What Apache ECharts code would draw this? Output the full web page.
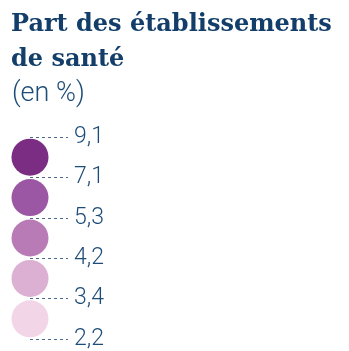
<!DOCTYPE html>
<html>
<head>
<meta charset="utf-8">
<script src="https://cdn.jsdelivr.net/npm/echarts@6/dist/echarts.min.js"></script>
<style>
  html, body { margin: 0; padding: 0; background: #fff; }
  #chart { width: 349px; height: 351px; }
</style>
</head>
<body>
<div id="chart"></div>
<script>
// Class boundaries of the share of health establishments (in %), top to bottom
const thresholds = [9.1, 7.1, 5.3, 4.2, 3.4, 2.2];
// Fill of each class, darkest for the highest share
const classColors = ['#7b2c83', '#9b57a3', '#b87bb6', '#dcb0d3', '#f2d6e8'];

const titleText = 'Part des établissements\nde santé';
const unitText = '(en %)';

const fmt = v => v.toFixed(1).replace('.', ',');

const chart = echarts.init(document.getElementById('chart'), null, { renderer: 'canvas' });

chart.setOption({
  backgroundColor: '#ffffff',
  animation: false,
  title: [
    {
      text: titleText,
      left: 6,
      top: 2,
      textStyle: {
        fontFamily: 'DejaVu Serif',
        fontWeight: 'bold',
        fontSize: 24,
        lineHeight: 35,
        color: '#123e69'
      }
    },
    {
      text: unitText,
      left: 7,
      top: 76,
      textStyle: {
        fontFamily: 'Roboto',
        fontWeight: 300,
        fontSize: 27,
        color: '#1d4c78'
      }
    }
  ],
  grid: { left: 30, right: 281, top: 137, bottom: 12, containLabel: false },
  xAxis: { type: 'value', min: 0, max: 1, show: false },
  yAxis: {
    type: 'value',
    min: 0,
    max: thresholds.length - 1,
    interval: 1,
    inverse: true,
    position: 'right',
    axisLine: { show: false },
    axisTick: { show: false },
    splitLine: {
      show: true,
      lineStyle: { type: [3, 3], width: 1, color: '#4a6888' }
    },
    axisLabel: {
      margin: 6,
      fontFamily: 'Roboto',
      fontWeight: 300,
      fontSize: 23,
      color: '#1d4c78',
      verticalAlign: 'middle',
      formatter: v => (thresholds[v] !== undefined ? fmt(thresholds[v]) : '')
    }
  },
  series: [
    {
      type: 'scatter',
      symbol: 'circle',
      symbolSize: 37,
      clip: false,
      silent: true,
      itemStyle: { opacity: 1 },
      data: classColors.map((c, i) => ({
        value: [0, i + 0.5],
        itemStyle: { color: c, opacity: 1 }
      }))
    }
  ]
});
</script>
</body>
</html>
